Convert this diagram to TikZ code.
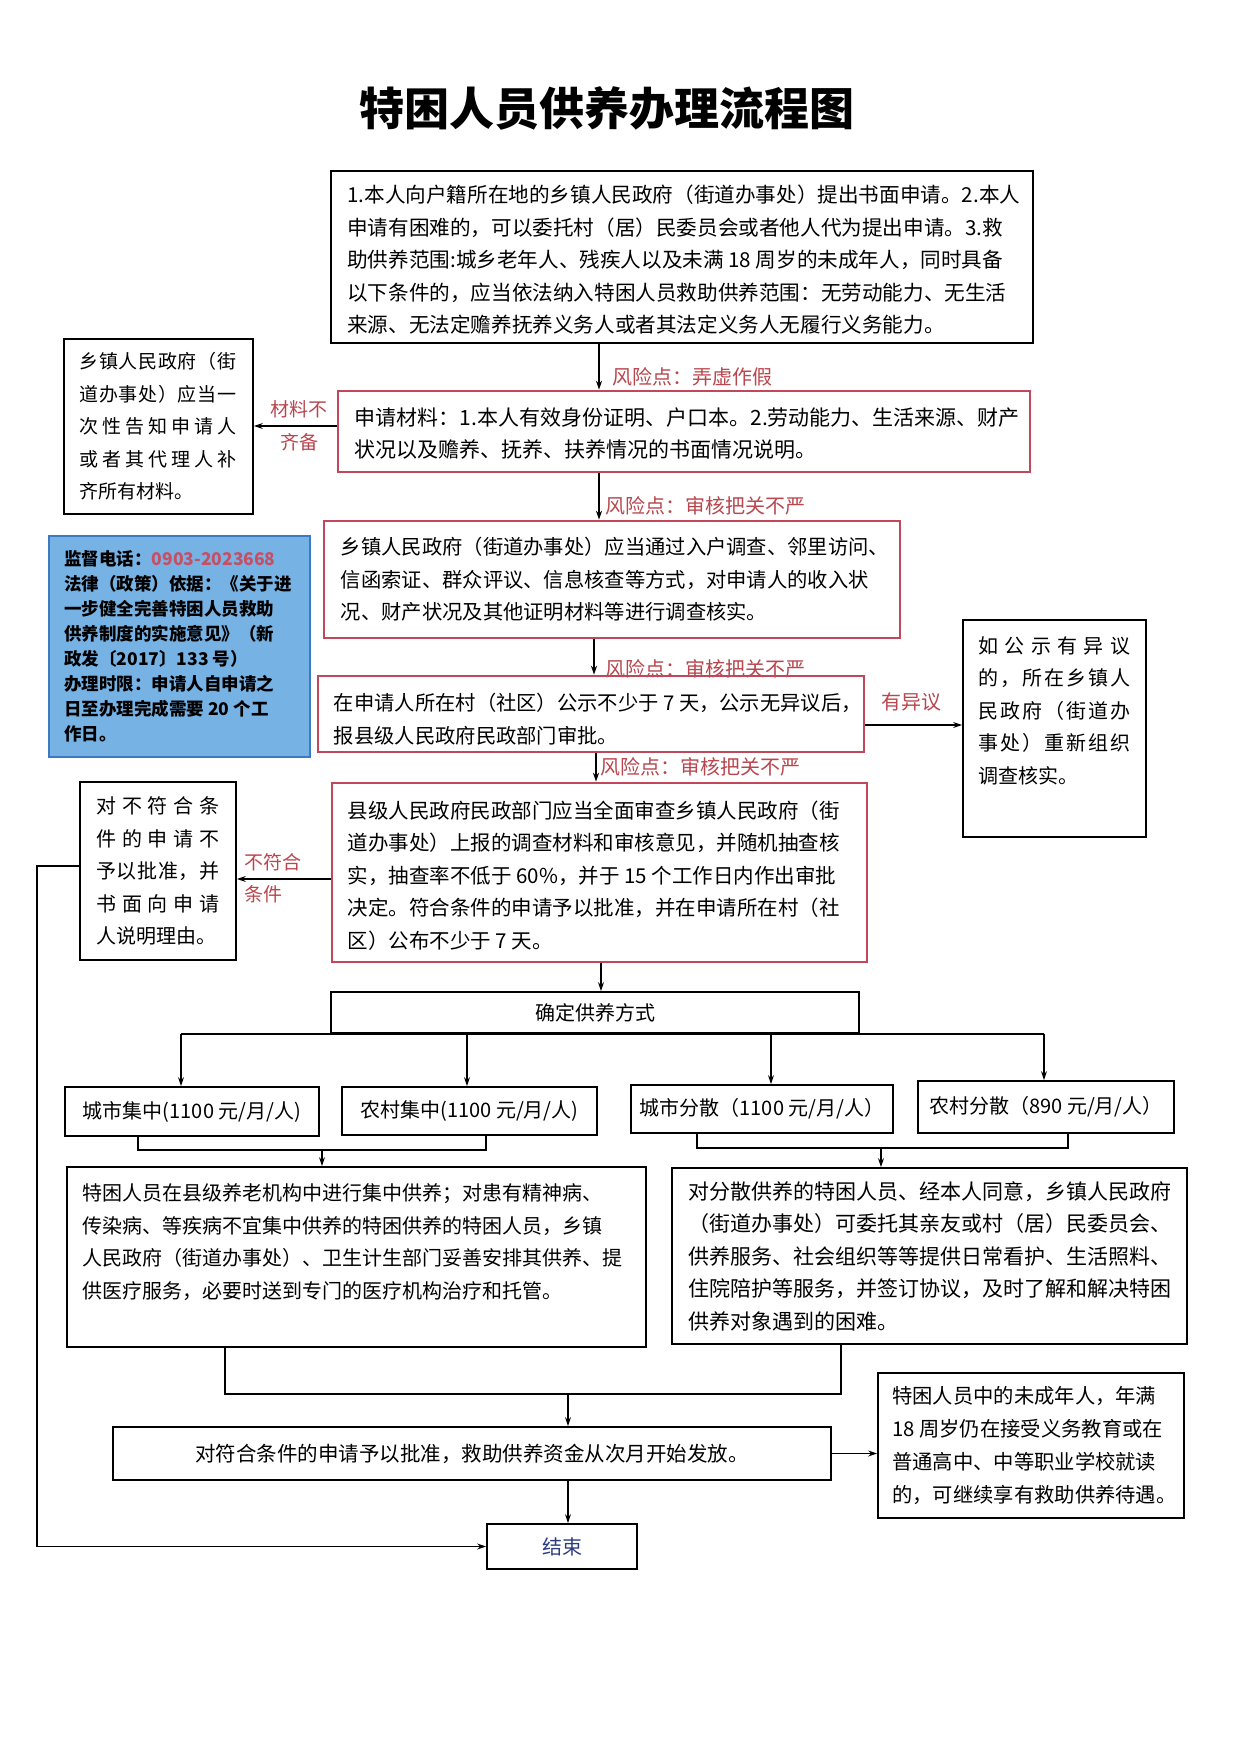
\documentclass[tikz,border=0pt]{standalone}
\usepackage{fontspec}
\setmainfont{Noto Sans CJK SC}
\usetikzlibrary{arrows.meta}
\definecolor{rbox}{RGB}{192,72,90}
\definecolor{rlab}{RGB}{185,70,78}
\definecolor{bfill}{RGB}{118,178,228}
\definecolor{bline}{RGB}{58,122,192}
\definecolor{phone}{RGB}{200,78,100}
\definecolor{endblue}{RGB}{45,60,130}
\newcommand\spr[2]{\makebox[#1][s]{\sprA#2\relax\relax}}
\def\sprA#1#2{#1\ifx\relax#2\else\hfil\expandafter\sprA\expandafter#2\fi}
\tikzset{
  bx/.style={draw=black, line width=1.8pt, inner sep=0pt},
  rbx/.style={draw=rbox, line width=2.6pt, inner sep=0pt},
  txt/.style={inner sep=0pt, align=left, anchor=west, font={\fontsize{20}{32.5}\selectfont}},
  rl/.style={inner sep=0pt, anchor=west, text=rlab, font={\fontsize{20}{33}\selectfont}},
  arr/.style={line width=1.3pt, -{Stealth[length=9pt,width=6pt]}},
  ln/.style={line width=1.3pt},
}
\begin{document}
\begin{tikzpicture}[x=1pt,y=-1pt]
\path[use as bounding box, fill=white] (0,0) rectangle (1240,1754);

% coordinates for connector positions
\coordinate (x599) at (599,0);
\coordinate (x594) at (594,0);
\coordinate (x596) at (596,0);
\coordinate (x601) at (601,0);
\coordinate (y426) at (0,426);
\coordinate (y725) at (0,725);
\coordinate (y879) at (0,879);
\coordinate (fbx) at (37,866);
\coordinate (x181) at (181,0);
\coordinate (x467) at (467,0);
\coordinate (x771) at (771,0);
\coordinate (x1044) at (1044,0);
\coordinate (x138) at (138,0);
\coordinate (x486) at (486,0);
\coordinate (x697) at (697,0);
\coordinate (x1068) at (1068,0);
\coordinate (x225) at (225,0);
\coordinate (x841) at (841,0);
\coordinate (jL) at (322,1150);
\coordinate (jR) at (881,1148);
\coordinate (jB) at (568,1394);
\coordinate (x568) at (568,0);

% title
\node[inner sep=0pt, font={\fontsize{45}{50}\selectfont\bfseries}] (title) at (607,108) {特困人员供养办理流程图};

% box 1
\node[bx, minimum width=702pt, minimum height=172pt] (b1) at (682,257) {};
\node[txt, yshift=-3pt, font={\fontsize{20.6}{32.5}\selectfont}] (t1) at ([xshift=17pt]b1.west) {1.本人向户籍所在地的乡镇人民政府（街道办事处）提出书面申请。2.本人\\申请有困难的，可以委托村（居）民委员会或者他人代为提出申请。3.救\\助供养范围:城乡老年人、残疾人以及未满 18 周岁的未成年人，同时具备\\以下条件的，应当依法纳入特困人员救助供养范围：无劳动能力、无生活\\来源、无法定赡养抚养义务人或者其法定义务人无履行义务能力。};

% risk 1
\node[rl] (r1) at (612,377) {风险点：弄虚作假};

% box 2
\node[rbx, minimum width=692pt, minimum height=81pt] (b2) at (684,431.5) {};
\node[txt, yshift=-2pt, font={\fontsize{21}{32.5}\selectfont}] (t2) at ([xshift=18pt]b2.west) {申请材料：1.本人有效身份证明、户口本。2.劳动能力、生活来源、财产\\状况以及赡养、抚养、扶养情况的书面情况说明。};

% box A
\node[bx, minimum width=189pt, minimum height=175pt] (bA) at (158.5,426.5) {};
\node[txt, font={\fontsize{19}{32.5}\selectfont}] (tA) at ([xshift=16pt]bA.west) {\spr{157pt}{乡镇人民政府（街}\\\spr{157pt}{道办事处）应当一}\\\spr{157pt}{次性告知申请人}\\\spr{157pt}{或者其代理人补}\\齐所有材料。};
\node[inner sep=0pt, align=center, text=rlab, font={\fontsize{19}{33}\selectfont}] (lA) at (299,425.5) {材料不\\齐备};

% risk 2
\node[rl] (r2) at (605,506) {风险点：审核把关不严};

% box 3
\node[rbx, minimum width=576pt, minimum height=117pt] (b3) at (612,579.5) {};
\node[txt, font={\fontsize{20.3}{32.5}\selectfont}] (t3) at ([xshift=18pt]b3.west) {乡镇人民政府（街道办事处）应当通过入户调查、邻里访问、\\信函索证、群众评议、信息核查等方式，对申请人的收入状\\况、财产状况及其他证明材料等进行调查核实。};

% blue info box
\node[draw=bline, fill=bfill, line width=2pt, minimum width=261pt, minimum height=221pt, inner sep=0pt] (bB) at (179.5,646.5) {};
\node[txt, font={\fontsize{17.5}{25}\selectfont\bfseries}] (tB) at ([xshift=16pt]bB.west) {监督电话：{\color{phone}0903-2023668}\\法律（政策）依据：《关于进\\一步健全完善特困人员救助\\供养制度的实施意见》（新\\政发〔2017〕133 号）\\办理时限：申请人自申请之\\日至办理完成需要 20 个工\\作日。};

% risk 3 (drawn before box 4 so the border crosses it)
\node[rl] (r3) at (605,669) {风险点：审核把关不严};

% box 4
\node[rbx, minimum width=546pt, minimum height=76pt] (b4) at (591,714) {};
\node[txt, yshift=-5pt, font={\fontsize{20.3}{32.5}\selectfont}] (t4) at ([xshift=17pt]b4.west) {在申请人所在村（社区）公示不少于 7 天，公示无异议后，\\报县级人民政府民政部门审批。};

% box right (objection)
\node[bx, minimum width=183pt, minimum height=217pt] (bO) at (1054.5,728.5) {};
\node[txt, yshift=18pt] (tO) at ([xshift=16pt]bO.west) {\spr{152pt}{如公示有异议}\\\spr{152pt}{的，所在乡镇人}\\\spr{152pt}{民政府（街道办}\\\spr{152pt}{事处）重新组织}\\调查核实。};
\node[rl] (lO) at (881,702) {有异议};

% risk 4
\node[rl] (r4) at (600,767) {风险点：审核把关不严};

% box 5
\node[rbx, minimum width=535pt, minimum height=179pt] (b5) at (599.5,872.5) {};
\node[txt, yshift=-3pt, font={\fontsize{20.5}{32.5}\selectfont}] (t5) at ([xshift=17pt]b5.west) {县级人民政府民政部门应当全面审查乡镇人民政府（街\\道办事处）上报的调查材料和审核意见，并随机抽查核\\实，抽查率不低于 60\%，并于 15 个工作日内作出审批\\决定。符合条件的申请予以批准，并在申请所在村（社\\区）公布不少于 7 天。};

% box C (rejected)
\node[bx, minimum width=156pt, minimum height=178pt] (bC) at (158,871) {};
\node[txt] (tC) at ([xshift=17pt]bC.west) {\spr{123pt}{对不符合条}\\\spr{123pt}{件的申请不}\\\spr{123pt}{予以批准，并}\\\spr{123pt}{书面向申请}\\人说明理由。};
\node[rl, align=left, font={\fontsize{19}{32}\selectfont}] (lC) at (244,878) {不符合\\条件};

% box 6
\node[bx, minimum width=528pt, minimum height=41pt, font={\fontsize{20}{24}\selectfont}] (b6) at (595,1012.5) {确定供养方式};

% four mode boxes
\node[bx, minimum width=254pt, minimum height=49pt, font={\fontsize{20}{24}\selectfont}] (sc1) at (192,1111.5) {城市集中(1100 元/月/人)};
\node[bx, minimum width=255pt, minimum height=48pt, font={\fontsize{20}{24}\selectfont}] (sc2) at (469.5,1111) {农村集中(1100 元/月/人)};
\node[bx, minimum width=262pt, minimum height=48pt, font={\fontsize{20}{24}\selectfont}] (sc3) at (762,1109) {城市分散（1100 元/月/人）};
\node[bx, minimum width=256pt, minimum height=52pt, font={\fontsize{20}{24}\selectfont}] (sc4) at (1046,1107) {农村分散（890 元/月/人）};

% box L
\node[bx, minimum width=579pt, minimum height=180pt] (bL) at (356.5,1257) {};
\node[txt, yshift=15pt] (tL) at ([xshift=16pt]bL.west) {特困人员在县级养老机构中进行集中供养；对患有精神病、\\传染病、等疾病不宜集中供养的特困供养的特困人员，乡镇\\人民政府（街道办事处）、卫生计生部门妥善安排其供养、提\\供医疗服务，必要时送到专门的医疗机构治疗和托管。};

% box R
\node[bx, minimum width=515pt, minimum height=176pt] (bR) at (929.5,1256) {};
\node[txt, font={\fontsize{21}{32.5}\selectfont}] (tR) at ([xshift=17pt]bR.west) {对分散供养的特困人员、经本人同意，乡镇人民政府\\（街道办事处）可委托其亲友或村（居）民委员会、\\供养服务、社会组织等等提供日常看护、生活照料、\\住院陪护等服务，并签订协议，及时了解和解决特困\\供养对象遇到的困难。};

% box 7
\node[bx, minimum width=718pt, minimum height=53pt, font={\fontsize{20.5}{24}\selectfont}] (b7) at (472,1453.5) {对符合条件的申请予以批准，救助供养资金从次月开始发放。};

% box D
\node[bx, minimum width=306pt, minimum height=145pt] (bD) at (1031,1445.5) {};
\node[txt, font={\fontsize{20.3}{33}\selectfont}] (tD) at ([xshift=15pt]bD.west) {特困人员中的未成年人，年满\\18 周岁仍在接受义务教育或在\\普通高中、中等职业学校就读\\的，可继续享有救助供养待遇。};

% end
\node[bx, minimum width=150pt, minimum height=45pt, text=endblue, font={\fontsize{20}{24}\selectfont}] (e) at (562,1546.5) {结束};

% connectors
\draw[arr] (b1.south -| x599) -- (b2.north -| x599);
\draw[arr] (b2.west |- y426) -- (bA.east |- y426);
\draw[arr] (b2.south -| x599) -- (b3.north -| x599);
\draw[arr] (b3.south -| x594) -- (b4.north -| x594);
\draw[arr] (b4.east |- y725) -- (bO.west |- y725);
\draw[arr] (b4.south -| x596) -- (b5.north -| x596);
\draw[arr] (b5.west |- y879) -- (bC.east |- y879);
\draw[arr] (bC.west |- fbx) -- (fbx) |- (e.west);
\draw[arr] (b5.south -| x601) -- (b6.north -| x601);
\draw[ln] (b6.south -| x181) -- (b6.south -| x1044);
\draw[arr] (b6.south -| x181) -- (sc1.north -| x181);
\draw[arr] (b6.south -| x467) -- (sc2.north -| x467);
\draw[arr] (b6.south -| x771) -- (sc3.north -| x771);
\draw[arr] (b6.south -| x1044) -- (sc4.north -| x1044);
\draw[ln] (sc1.south -| x138) |- (jL) -| (sc2.south -| x486);
\draw[arr] (jL) -- (bL.north -| jL);
\draw[ln] (sc3.south -| x697) |- (jR) -| (sc4.south -| x1068);
\draw[arr] (jR) -- (bR.north -| jR);
\draw[ln] (bL.south -| x225) |- (jB) -| (bR.south -| x841);
\draw[arr] (jB) -- (b7.north -| jB);
\draw[arr] (b7.east) -- (bD.west |- b7.east);
\draw[arr] (b7.south -| x568) -- (e.north -| x568);
\end{tikzpicture}
\end{document}
